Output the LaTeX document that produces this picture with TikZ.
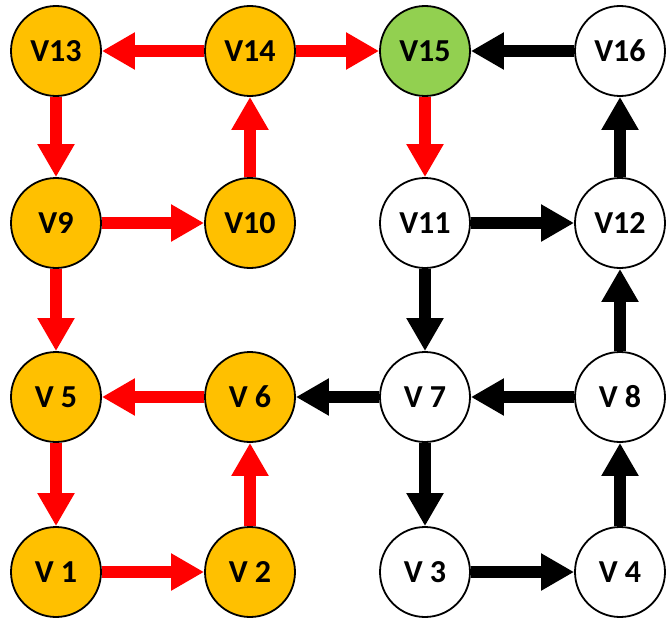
\documentclass[tikz,border=0pt]{standalone}
\usepackage{fontspec}
\setmainfont{Carlito}
\usetikzlibrary{arrows.meta}
\definecolor{vorange}{HTML}{FFC000}
\definecolor{vgreen}{HTML}{92D050}
\definecolor{vred}{HTML}{FF0000}
\begin{document}
\begin{tikzpicture}[x=1pt,y=1pt,
  vertex/.style={circle,draw=black,line width=1.8pt,minimum size=90pt,inner sep=0pt,
    font=\fontsize{32}{32}\selectfont\bfseries},
  done/.style={vertex,fill=vorange},
  goal/.style={vertex,fill=vgreen},
  open/.style={vertex,fill=white},
  edge/.style={line width=12pt,-{Triangle[width=35pt,length=33pt]}},
  redge/.style={edge,draw=vred},
  bedge/.style={edge,draw=black}]
\useasboundingbox (0,0) rectangle (666,-618);
% vertices, row by row from the top
\node[done] (v13) at (56,-51) {V13};
\node[done] (v14) at (250,-51) {V14};
\node[goal] (v15) at (425,-51) {V15};
\node[open] (v16) at (620,-51) {V16};
\node[done] (v9) at (56,-223) {V9};
\node[done] (v10) at (250,-223) {V10};
\node[open] (v11) at (425,-223) {V11};
\node[open] (v12) at (620,-223) {V12};
\node[done] (v5) at (56,-397) {V 5};
\node[done] (v6) at (250,-397) {V 6};
\node[open] (v7) at (425,-397) {V 7};
\node[open] (v8) at (620,-397) {V 8};
\node[done] (v1) at (56,-572) {V 1};
\node[done] (v2) at (250,-572) {V 2};
\node[open] (v3) at (425,-572) {V 3};
\node[open] (v4) at (620,-572) {V 4};
% red edges
\draw[redge] (v14) -- (v13);
\draw[redge] (v14) -- (v15);
\draw[redge] (v13) -- (v9);
\draw[redge] (v10) -- (v14);
\draw[redge] (v9) -- (v10);
\draw[redge] (v9) -- (v5);
\draw[redge] (v6) -- (v5);
\draw[redge] (v5) -- (v1);
\draw[redge] (v1) -- (v2);
\draw[redge] (v2) -- (v6);
\draw[redge] (v15) -- (v11);
% black edges
\draw[bedge] (v16) -- (v15);
\draw[bedge] (v12) -- (v16);
\draw[bedge] (v11) -- (v12);
\draw[bedge] (v11) -- (v7);
\draw[bedge] (v8) -- (v12);
\draw[bedge] (v8) -- (v7);
\draw[bedge] (v7) -- (v6);
\draw[bedge] (v7) -- (v3);
\draw[bedge] (v3) -- (v4);
\draw[bedge] (v4) -- (v8);
\end{tikzpicture}
\end{document}
